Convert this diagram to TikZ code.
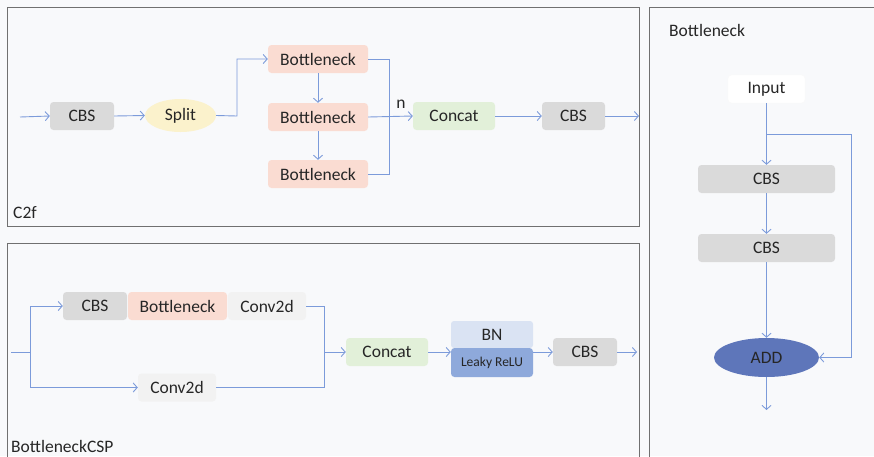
\documentclass[tikz,border=0pt]{standalone}
\usepackage{fontspec}
\setmainfont{Carlito}
\usetikzlibrary{arrows.meta,shapes.geometric}
\definecolor{bgc}{HTML}{F8F9FB}
\definecolor{framec}{HTML}{707070}
\definecolor{linec}{HTML}{7C9BDA}
\definecolor{cbsc}{HTML}{DADADA}
\definecolor{bnkc}{HTML}{FADCD2}
\definecolor{catc}{HTML}{E2F0D9}
\definecolor{splc}{HTML}{FBF2CC}
\definecolor{convc}{HTML}{F2F2F2}
\definecolor{bnc}{HTML}{DAE3F3}
\definecolor{lrc}{HTML}{8EA9DB}
\definecolor{addc}{HTML}{5E76BA}
\definecolor{txtc}{HTML}{262626}
\tikzset{
  box/.style={rectangle, rounded corners=3.5pt, inner sep=0pt, text=txtc, font=\fontsize{17.5}{20}\selectfont},
  frame/.style={draw=framec, line width=0.9pt},
  conn/.style={draw=linec, line width=0.9pt},
  arr/.style={conn, -{Straight Barb[length=4pt,width=9pt,line width=0.9pt]}},
  lbl/.style={text=txtc, font=\fontsize{17.5}{20}\selectfont, inner sep=0pt},
}
\begin{document}
\begin{tikzpicture}[x=1pt,y=-1pt]
\fill[bgc] (0,0) rectangle (874,456);
\useasboundingbox (0,0) rectangle (874,456);
% panels
\draw[frame] (7,7) rectangle (639,226);
\draw[frame] (7,243) rectangle (639,470);
\draw[frame] (649,7) rectangle (890,470);
\node[lbl, anchor=west] (c2flbl) at (13,213) {C2f};
\node[lbl, anchor=west] (csplbl) at (11,446) {BottleneckCSP};
\node[lbl, anchor=west] (bnlbl) at (669,30) {Bottleneck};

% ===== C2f =====
\coordinate (in1) at (20,117);
\node[box, fill=cbsc, minimum width=64pt, minimum height=28pt] (cbs1) at (82,116) {CBS};
\node[ellipse, fill=splc, inner sep=0pt, minimum width=71pt, minimum height=33pt, text=txtc, font=\fontsize{17.5}{20}\selectfont] (split) at (180.5,115.5) {Split};
\node[box, fill=bnkc, minimum width=100pt, minimum height=28pt] (b1) at (318,59) {Bottleneck};
\node[box, fill=bnkc, minimum width=100pt, minimum height=28pt] (b2) at (318,117) {Bottleneck};
\node[box, fill=bnkc, minimum width=100pt, minimum height=28pt] (b3) at (318,174) {Bottleneck};
\node[box, fill=catc, minimum width=82pt, minimum height=28pt] (cat1) at (454,116) {Concat};
\node[box, fill=cbsc, minimum width=63pt, minimum height=28pt] (cbs2) at (573.5,116) {CBS};
\coordinate (out1) at (639,116);
\coordinate (mrg) at (389,117);
\draw[arr] (in1) -- (cbs1.west);
\draw[arr] (cbs1.east) -- (split.west);
\draw[arr] (split.east) -- (237,116) |- (b1.west);
\draw[arr] (b1.south) -- (b2.north);
\draw[arr] (b2.south) -- (b3.north);
\draw[conn] (b1.east) -- (389,59) -- (389,174) -- (b3.east);
\draw[arr] (b2.east) -- (cat1.west);
\node[lbl] (nlbl) at (401,104) {n};
\draw[arr] (cat1.east) -- (cbs2.west);
\draw[arr] (cbs2.east) -- (out1);

% ===== BottleneckCSP =====
\coordinate (in2) at (11,352);
\node[box, fill=cbsc, minimum width=64pt, minimum height=28pt] (cbs3) at (95,306) {CBS};
\node[box, fill=bnkc, minimum width=99pt, minimum height=28pt] (bnk4) at (177.5,306) {Bottleneck};
\node[box, fill=convc, minimum width=78pt, minimum height=28pt] (conv1) at (267,306) {Conv2d};
\node[box, fill=convc, minimum width=78pt, minimum height=28pt] (conv2) at (177,387.5) {Conv2d};
\node[box, fill=catc, minimum width=82pt, minimum height=28pt] (cat2) at (387,352) {Concat};
\node[box, fill=bnc, minimum width=82pt, minimum height=27pt, rounded corners=3pt] (bn) at (492,334.5) {BN};
\node[box, fill=lrc, minimum width=82pt, minimum height=29pt, font=\fontsize{13.5}{16}\selectfont] (lrelu) at (492,362.5) {Leaky ReLU};
\node[box, fill=cbsc, minimum width=64pt, minimum height=28pt] (cbs4) at (585,352) {CBS};
\coordinate (out2) at (637,352);
\draw[conn] (in2) -- (30,352);
\draw[arr] (30,352) |- (cbs3.west);
\draw[arr] (30,352) |- (conv2.west);
\draw[conn] (conv1.east) -- (324,306) -- (324,387.5) -- (conv2.east);
\draw[arr] (324,352) -- (cat2.west);
\draw[arr] (cat2.east) -- (lrelu.west |- cat2.east);
\draw[arr] (lrelu.east |- cbs4.west) -- (cbs4.west);
\draw[arr] (cbs4.east) -- (out2);

% ===== Bottleneck =====
\node[box, fill=white, draw=white!95!gray, line width=0.4pt, minimum width=77pt, minimum height=28pt] (inp) at (766.5,89) {Input};
\node[box, fill=cbsc, minimum width=137pt, minimum height=28pt] (cbs5) at (766.5,179) {CBS};
\node[box, fill=cbsc, minimum width=137pt, minimum height=28pt] (cbs6) at (766.5,248) {CBS};
\node[ellipse, fill=addc, inner sep=0pt, minimum width=105pt, minimum height=39pt, text=txtc, font=\fontsize{17.5}{20}\selectfont] (add) at (766.5,357.5) {ADD};
\coordinate (out3) at (766.5,410);
\draw[arr] (inp.south) -- (cbs5.north);
\draw[arr] (766.5,134) -- (851,134) |- (add.east);
\draw[arr] (cbs5.south) -- (cbs6.north);
\draw[arr] (cbs6.south) -- (add.north);
\draw[arr] (add.south) -- (out3);
\end{tikzpicture}
\end{document}
